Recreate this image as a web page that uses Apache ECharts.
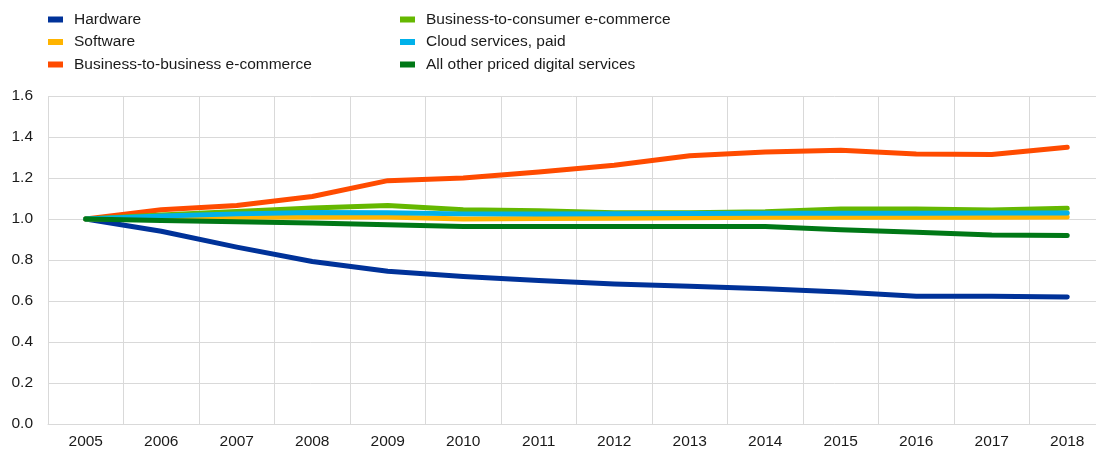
<!DOCTYPE html>
<html><head><meta charset="utf-8">
<script src="https://cdn.jsdelivr.net/npm/echarts@6/dist/echarts.min.js"></script>
<style>html,body{margin:0;padding:0;background:#fff}#c{width:1096px;height:449px}</style>
</head><body><div id="c"></div>
<script>
const years = ['2005','2006','2007','2008','2009','2010','2011','2012','2013','2014','2015','2016','2017','2018'];
const hardware = [1.0,0.94,0.863,0.793,0.745,0.72,0.70,0.683,0.672,0.66,0.644,0.623,0.623,0.62];
const software = [1.0,1.003,1.008,1.01,1.01,1.0,1.002,1.004,1.006,1.008,1.008,1.008,1.009,1.01];
const b2b = [1.0,1.045,1.066,1.11,1.187,1.2,1.229,1.262,1.309,1.327,1.335,1.317,1.315,1.35];
const b2c = [1.0,1.019,1.037,1.054,1.066,1.045,1.04,1.03,1.03,1.035,1.049,1.049,1.044,1.052];
const cloud = [1.0,1.015,1.025,1.032,1.03,1.025,1.025,1.026,1.027,1.028,1.028,1.028,1.029,1.029];
const other = [1.0,0.993,0.987,0.98,0.972,0.964,0.964,0.964,0.964,0.963,0.948,0.935,0.922,0.919];
const yTicks = [0,0.2,0.4,0.6,0.8,1.0,1.2,1.4,1.6];

const names = ['Hardware','Software','Business-to-business e-commerce','Business-to-consumer e-commerce','Cloud services, paid','All other priced digital services'];
const colors = ['#003299','#FFB400','#FF4B00','#65B800','#00B1EA','#007816'];
const datas = [hardware,software,b2b,b2c,cloud,other];
const FONT = 'Liberation Sans';
const FS = 15.5;

const chart = echarts.init(document.getElementById('c'));
const legendCommon = {orient:'vertical', icon:'rect', itemWidth:15, itemHeight:6, itemGap:6.5,
  textStyle:{fontFamily:FONT, fontSize:FS, color:'#1a1a1a', padding:[0,0,0,6]}};
chart.setOption({
  animation:false,
  color: colors,
  legend:[
    Object.assign({left:48, top:11.5, padding:0, data:names.slice(0,3)}, legendCommon),
    Object.assign({left:400, top:11.5, padding:0, data:names.slice(3)}, legendCommon)
  ],
  grid:{left:48, top:96, bottom:25, width:1057, containLabel:false, outerBoundsMode:'none'},
  xAxis:{type:'category', data:years, boundaryGap:true,
    axisLine:{lineStyle:{color:'#d9d9d9'}}, axisTick:{show:false},
    splitLine:{show:true, lineStyle:{color:'#d9d9d9'}},
    axisLabel:{fontFamily:FONT, fontSize:FS, color:'#1a1a1a', margin:10}},
  yAxis:{type:'value', min:yTicks[0], max:yTicks[yTicks.length-1], interval:0.2,
    axisLine:{show:false}, axisTick:{show:false},
    splitLine:{lineStyle:{color:'#d9d9d9'}},
    axisLabel:{fontFamily:FONT, fontSize:FS, color:'#1a1a1a', margin:15,
      formatter:v=>v.toFixed(1)}},
  series: names.map((n,i)=>({name:n, type:'line', data:datas[i], symbol:'none', smooth:false,
    lineStyle:{width:5, color:colors[i], cap:'round', join:'round'}, itemStyle:{color:colors[i]}}))
});
</script></body></html>
